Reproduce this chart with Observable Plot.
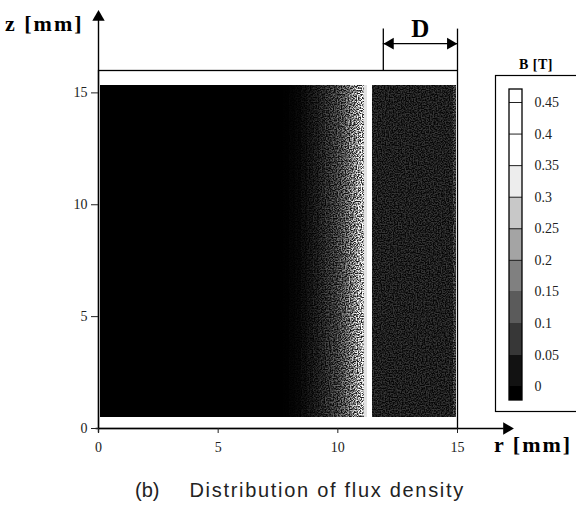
<!DOCTYPE html>
<html>
<head>
<meta charset="utf-8">
<script src="https://cdn.jsdelivr.net/npm/d3@7"></script>
<script src="https://cdn.jsdelivr.net/npm/@observablehq/plot@0.6"></script>
<style>
  html, body { margin: 0; padding: 0; background: #fff; overflow: hidden; }
  #chart { position: relative; width: 576px; height: 505px; }
  #chart svg { position: absolute; overflow: visible; max-width: none; }
  #chart svg text { font-family: "Liberation Serif", "DejaVu Serif", serif; }
  .lab { position: absolute; font-family: "Liberation Serif", "DejaVu Serif", serif; font-weight: bold; color: #000; white-space: nowrap; line-height: 1; }
  #caption { position: absolute; left: 135px; top: 480px; font-family: "Liberation Sans", Arial, sans-serif; font-size: 20px; letter-spacing: 1.7px; color: #222; white-space: nowrap; line-height: 1; }
  #caption span { display: inline-block; margin-right: 30px; letter-spacing: 0; }
</style>
</head>
<body>
<div id="chart">
  <div class="lab" style="left:5px; top:13px; font-size:22px; letter-spacing:2px;">z [mm]</div>
  <div class="lab" style="left:494px; top:434px; font-size:22px; letter-spacing:2px;">r [mm]</div>
  <div class="lab" style="left:519px; top:58px; font-size:14px; letter-spacing:0.5px;">B [T]</div>
  <div id="caption"><span>(b)</span>Distribution of flux density</div>
</div>
<script>
// Axis ticks
const xTicks = [0, 5, 10, 15];
const yTicks = [0, 5, 10, 15];

// Radial bands of the flux-density map: band edges r [mm] and B [T] in each band
const rEdges = [0.08, 7.5, 7.75, 8.0, 8.25, 8.5, 8.75, 9.0, 9.25, 9.5, 9.75, 10.0, 10.125, 10.25, 10.375,
                10.5, 10.625, 10.75, 10.875, 11.0, 11.125, 11.24, 11.46, 14.82, 14.95];
const fluxB  = [0.0, 0.0, 0.002, 0.005, 0.01, 0.018, 0.027, 0.037, 0.05, 0.063, 0.078, 0.093, 0.105, 0.12,
                0.138, 0.158, 0.18, 0.205, 0.235, 0.27, 0.31, 0.46, 0.045, 0.08];
// Axial extent of the computed region, z [mm]
const zExtent = [0.5, 15.35];

// Axis arrow tips (r [mm], z [mm])
const rAxisTip = 17.35;
const zAxisTip = 18.7;

// Dimension "D" above the plot: span in r, arrow level and extension lines in z
const dimSpan = [11.9, 15];
const dimLevel = 17.2;
const dimExt = [16, 17.85];
const dimText = "D";

// Colour bar: class boundaries, labels, and the bar's end values
const legendTicks  = [0, 0.05, 0.1, 0.15, 0.2, 0.25, 0.3, 0.35, 0.4, 0.45];
const legendLabels = ["0", "0.05", "0.1", "0.15", "0.2", "0.25", "0.3", "0.35", "0.4", "0.45"];
const legendEnds   = [-0.022, 0.4706];

const serif = '"Liberation Serif", "DejaVu Serif", serif';
const color = {type: "linear", domain: [0, 0.35], range: ["#000000", "#ffffff"], clamp: true};

const bands = fluxB.map((b, i) => ({r1: rEdges[i], r2: rEdges[i + 1], b}));
const printed = d => d.b < 0.3;   // bands printed with halftone grain
const clean = d => d.b >= 0.3;

const main = Plot.plot({
  width: 576,
  height: 478,
  marginLeft: 98,
  marginRight: 119,
  marginTop: 70,
  marginBottom: 50,
  x: {domain: [0, 15]},
  y: {domain: [0, 16]},
  color,
  style: {background: "transparent", fontFamily: serif, fontSize: "14px", color: "#222"},
  marks: [
    Plot.rect(bands, {filter: printed, x1: "r1", x2: "r2", y1: zExtent[0], y2: zExtent[1], fill: "b", shapeRendering: "crispEdges"}),
    Plot.rect(bands, {filter: clean, x1: "r1", x2: "r2", y1: zExtent[0], y2: zExtent[1], fill: "b", shapeRendering: "crispEdges"}),
    Plot.frame({stroke: "#000", strokeWidth: 1.3}),
    // axes with arrows
    Plot.ruleX([0], {y1: -0.2, y2: zAxisTip - 0.4, stroke: "#000", strokeWidth: 1.4}),
    Plot.ruleY([0], {x1: -0.1, x2: rAxisTip - 0.4, stroke: "#000", strokeWidth: 1.4}),
    Plot.dot([0], {x: 0, y: zAxisTip, symbol: "triangle", r: 4.6, fill: "#000", dy: 7, rotate: 0}),
    Plot.dot([0], {x: rAxisTip, y: 0, symbol: "triangle", r: 4.6, fill: "#000", dx: -7, rotate: 90}),
    Plot.axisX(xTicks, {tickSize: 5, tickPadding: 9, fontSize: 14, fontFamily: serif, label: null}),
    Plot.axisY(yTicks, {tickSize: 7, tickPadding: 4, fontSize: 14, fontFamily: serif, label: null}),
    // dimension D
    Plot.ruleX(dimSpan, {y1: dimExt[0], y2: dimExt[1], stroke: "#000", strokeWidth: 1.3}),
    Plot.ruleY([dimLevel], {x1: dimSpan[0], x2: dimSpan[1], stroke: "#000", strokeWidth: 1.4}),
    Plot.dot([0], {x: dimSpan[0], y: dimLevel, symbol: "triangle", r: 4.4, fill: "#000", dx: 7, rotate: -90}),
    Plot.dot([0], {x: dimSpan[1], y: dimLevel, symbol: "triangle", r: 4.4, fill: "#000", dx: -7, rotate: 90}),
    Plot.text([dimText], {x: (dimSpan[0] + dimSpan[1]) / 2, y: dimLevel, text: d => d, dy: -15, fontSize: 25, fontWeight: "bold", fontFamily: serif, fill: "#000"})
  ]
});
main.style.left = "0px";
main.style.top = "0px";

// Halftone grain of the printed map: brightness modulated by fine noise (black stays black)
d3.select(main).append("defs").html(`
  <filter id="grain" x="0" y="0" width="1" height="1" color-interpolation-filters="sRGB">
    <feTurbulence type="fractalNoise" baseFrequency="0.75" numOctaves="1" seed="11" result="noise"/>
    <feColorMatrix in="noise" type="matrix" result="gray"
      values="3.2 0 0 0 -1.1  3.2 0 0 0 -1.1  3.2 0 0 0 -1.1  0 0 0 0 1"/>
    <feComposite in="SourceGraphic" in2="gray" operator="arithmetic" k1="1.5" k2="0.15" k3="0" k4="0"/>
  </filter>`);
main.querySelector('g[aria-label="rect"]').setAttribute("filter", "url(#grain)");
document.getElementById("chart").appendChild(main);

// Colour bar
const edges = [legendEnds[0], ...legendTicks, legendEnds[1]];
const bins = edges.slice(0, -1).map((lo, i) => ({lo, hi: edges[i + 1], mid: (lo + edges[i + 1]) / 2}));

const legend = Plot.plot({
  width: 110,
  height: 380,
  marginLeft: 15,
  marginRight: 0,
  marginTop: 25,
  marginBottom: 19,
  x: {domain: [0, 1], range: [29, 42], axis: null},
  y: {domain: legendEnds, range: [350, 39], axis: null},
  color,
  style: {background: "transparent", fontFamily: serif, fontSize: "14px", color: "#222"},
  marks: [
    Plot.frame({stroke: "#000", strokeWidth: 1.2}),
    Plot.rect(bins, {x1: 0, x2: 1, y1: "lo", y2: "hi", fill: "mid", shapeRendering: "crispEdges"}),
    Plot.ruleY(legendTicks.filter(t => t > 0.15), {x1: 0, x2: 1, stroke: "#222", strokeWidth: 1}),
    Plot.rect([0], {x1: 0, x2: 1, y1: legendEnds[0], y2: legendEnds[1], fill: "none", stroke: "#000", strokeWidth: 1.3}),
    Plot.text(legendTicks, {x: 1, y: d => d, text: (d, i) => legendLabels[i], dx: 12, textAnchor: "start", fontSize: 14, fontFamily: serif, fill: "#222"})
  ]
});
legend.style.left = "480px";
legend.style.top = "50px";
document.getElementById("chart").appendChild(legend);
</script>
</body>
</html>
